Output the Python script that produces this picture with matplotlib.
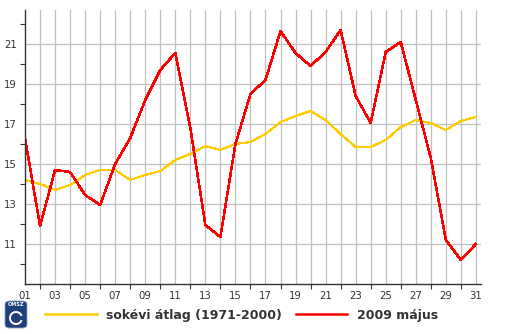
import matplotlib
matplotlib.use('Agg')
import matplotlib.pyplot as plt
from matplotlib.lines import Line2D
from matplotlib.patches import FancyBboxPatch, Arc
from matplotlib.ticker import FixedLocator

# May daily mean temperature, days 1..31
days = list(range(1, 32))
day_labels = ['%02d' % d for d in range(1, 32, 2)]

# long-term average (1971-2000)
avg_temp = [14.2, 14.0, 13.7, 13.95, 14.45, 14.7, 14.7, 14.2, 14.45, 14.65,
            15.2, 15.5, 15.9, 15.7, 16.0, 16.1, 16.5, 17.1, 17.4, 17.65,
            17.2, 16.5, 15.85, 15.85, 16.2, 16.85, 17.2, 17.05, 16.7, 17.15,
            17.35]

# May 2009
may_2009 = [16.3, 11.9, 14.7, 14.6, 13.45, 12.95, 15.0, 16.3, 18.2, 19.7,
            20.55, 16.8, 11.95, 11.35, 16.0, 18.5, 19.2, 21.65, 20.55, 19.9,
            20.6, 21.7, 18.4, 17.05, 20.6, 21.1, 18.2, 15.3, 11.2, 10.2,
            11.0]

avg_label = 'sokévi átlag (1971-2000)'
cur_label = '2009 május'

TXT = '#333333'
GRID = '#c0c0c0'

fig = plt.figure(figsize=(5.05, 3.34), dpi=100)
ax = fig.add_axes([25 / 505, 1 - 284 / 334, 456 / 505, 274 / 334])

ax.plot(days, avg_temp, color='#ffcc00', lw=0.8, zorder=3, antialiased=False)
ax.plot(days, may_2009, color='#ff0000', lw=1.1, zorder=4, antialiased=False)

ax.set_xlim(1, 31.34)
ax.set_ylim(9, 22.7)

# labels on odd days / odd degrees, bare ticks on the even ones
ax.xaxis.set_major_locator(FixedLocator(list(range(1, 32, 2))))
ax.set_xticklabels(day_labels)
ax.xaxis.set_minor_locator(FixedLocator(list(range(2, 32, 2))))
ax.yaxis.set_major_locator(FixedLocator(list(range(11, 23, 2))))
ax.yaxis.set_minor_locator(FixedLocator(list(range(10, 23, 2))))

ax.tick_params(which='major', length=0, labelsize=7.3, labelcolor=TXT)
ax.tick_params(axis='x', which='major', pad=5)
ax.tick_params(axis='y', which='major', pad=6)
ax.tick_params(which='minor', length=3.5, width=0.8, color=TXT)

# vertical grid on every day, horizontal only on labelled values
for d in days[1:]:
    ax.axvline(d, color=GRID, lw=0.9, zorder=1)
ax.yaxis.grid(True, which='major', color=GRID, lw=0.9, zorder=1)

for side in ('top', 'right'):
    ax.spines[side].set_visible(False)
for side in ('left', 'bottom'):
    ax.spines[side].set_color(TXT)
    ax.spines[side].set_linewidth(1.0)
    ax.spines[side].set_zorder(5)

handles = [Line2D([], [], color='#ffcc00', lw=1.8),
           Line2D([], [], color='#ff0000', lw=1.8)]
fig.legend(handles, [avg_label, cur_label], loc='center left',
           bbox_to_anchor=(34 / 505, 1 - 315 / 334), ncol=2, frameon=False,
           handlelength=4.1, handletextpad=0.8, columnspacing=1.1,
           prop={'size': 9, 'weight': 'bold'}, labelcolor=TXT)

# small OMSZ badge in the corner
badge = FancyBboxPatch((5 / 505, 1 - 328 / 334), 22 / 505, 27 / 334,
                       boxstyle='round,pad=0,rounding_size=0.01',
                       transform=fig.transFigure, facecolor='#1f3f7a',
                       edgecolor='#8aa0c8', lw=0.6)
fig.add_artist(badge)
fig.text(16 / 505, 1 - 305 / 334, 'OMSZ', color='white', fontsize=3.6,
         fontweight='bold', ha='center', va='center')
fig.add_artist(Arc((16 / 505, 1 - 318 / 334), 12 / 505, 12 / 334,
                   theta1=30, theta2=330, transform=fig.transFigure,
                   color='white', lw=1.4))

fig.savefig('out.png', dpi=100)
